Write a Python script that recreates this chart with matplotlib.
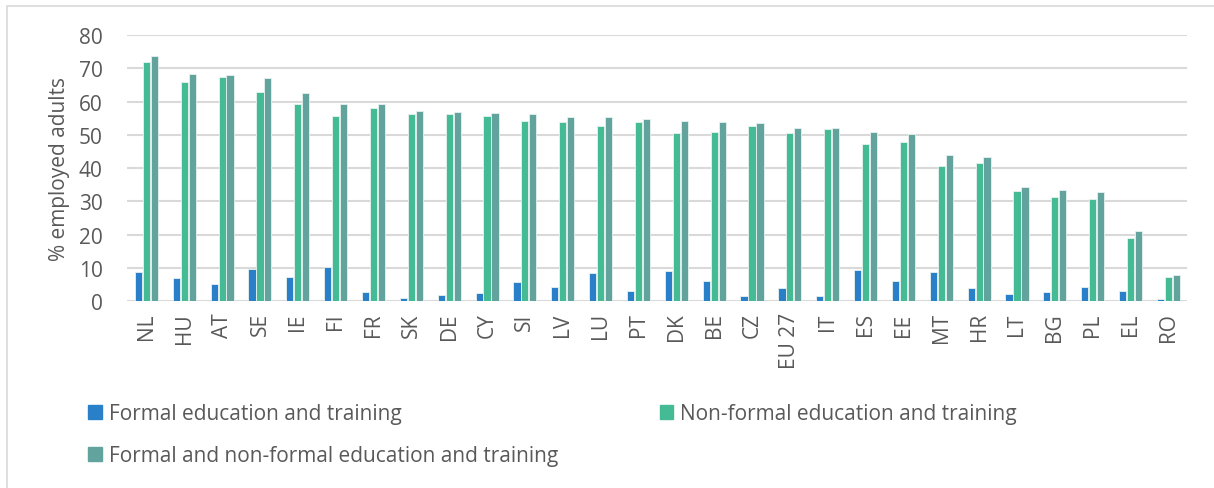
import matplotlib.pyplot as plt
import matplotlib.patches as mpatches
import numpy as np

# Data
countries = ['NL', 'HU', 'AT', 'SE', 'IE', 'FI', 'FR', 'SK', 'DE', 'CY', 'SI', 'LV', 'LU', 'PT',
             'DK', 'BE', 'CZ', 'EU 27', 'IT', 'ES', 'EE', 'MT', 'HR', 'LT', 'BG', 'PL', 'EL', 'RO']
formal = [8.9, 7.1, 5.2, 9.8, 7.4, 10.4, 2.8, 1.1, 1.8, 2.6, 5.8, 4.3, 8.5, 3.1,
          9.2, 6.1, 1.7, 4.1, 1.7, 9.5, 6.1, 8.9, 4.1, 2.2, 2.8, 4.4, 3.1, 0.7]
non_formal = [71.8, 65.8, 67.4, 62.9, 59.2, 55.8, 58.2, 56.4, 56.3, 55.8, 54.3, 54.0, 52.7, 53.9,
              50.5, 51.0, 52.8, 50.6, 51.8, 47.3, 48.0, 40.8, 41.6, 33.2, 31.4, 30.6, 19.0, 7.3]
both = [73.8, 68.3, 68.1, 67.0, 62.5, 59.2, 59.2, 57.1, 57.0, 56.5, 56.3, 55.5, 55.3, 54.9,
        54.3, 54.0, 53.7, 52.2, 52.2, 51.0, 50.4, 44.1, 43.3, 34.3, 33.3, 32.9, 21.2, 8.0]
series_names = ['Formal education and training',
                'Non-formal education and training',
                'Formal and non-formal education and training']
colors = ['#2980c8', '#45bb95', '#62a39d']

plt.rcParams['font.family'] = ['Open Sans', 'DejaVu Sans']
txt = '#595959'

fig = plt.figure(figsize=(12.14, 4.89), dpi=100)
ax = fig.add_axes([0.105, 0.382, 0.873, 0.544])

x = np.arange(len(countries))
w = 0.19
step = 0.21
for i, vals in enumerate([formal, non_formal, both]):
    ax.bar(x + (i - 1) * step, vals, width=w, color=colors[i],
           edgecolor='#e8f2ef', linewidth=0.6, label=series_names[i], zorder=3)

ax.set_xlim(-0.5, len(countries) - 0.5)
ax.set_ylim(0, 80)
ax.set_yticks(range(0, 81, 10))
ax.set_xticks(x)
ax.set_xticklabels(countries, rotation=90)
ax.tick_params(axis='both', length=0, colors=txt, labelsize=15)
ax.tick_params(axis='y', pad=18)
ax.tick_params(axis='x', pad=8)
ax.grid(axis='y', color='#d9d9d9', linewidth=1.5, zorder=0)
for s in ax.spines.values():
    s.set_visible(False)
ax.set_ylabel('% employed adults', color=txt, fontsize=15, labelpad=6)

# reorder so the legend reads row by row like the original
order = [0, 2, 1]
handles = [mpatches.Patch(color=colors[k]) for k in order]
labels = [series_names[k] for k in order]
leg = fig.legend(handles, labels, loc='upper left', bbox_to_anchor=(0.066, 0.19),
                 ncol=2, frameon=False, fontsize=15, labelcolor=txt,
                 handlelength=0.65, handleheight=0.65, handletextpad=0.35,
                 columnspacing=4.85, labelspacing=1.0, borderaxespad=0)

# light outer frame
fig.patches.append(mpatches.Rectangle((7 / 1214, -0.01), 1.0, 1 - 7 / 489 + 0.01,
                                      transform=fig.transFigure, fill=False,
                                      edgecolor='#d9d9d9', linewidth=1.2))

fig.savefig('out.png', dpi=100)
